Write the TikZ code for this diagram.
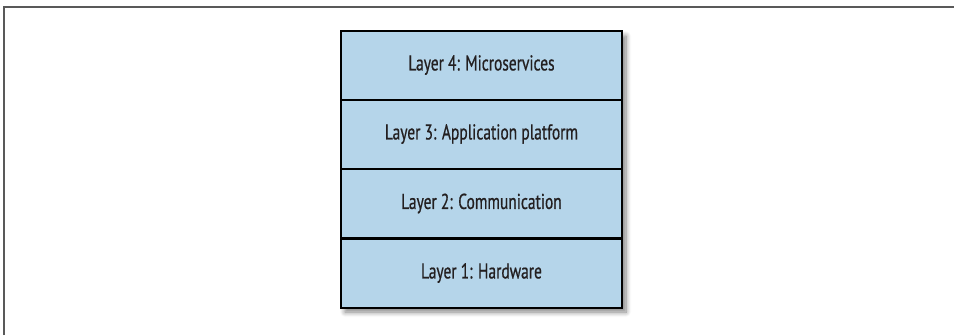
\documentclass[tikz,border=0pt]{standalone}
\usepackage{fontspec}
\setmainfont{PT Sans}
\newfontfamily\layerfont[FakeStretch=0.72,FakeBold=0.6]{PT Sans}
\usetikzlibrary{shadows.blur}
\definecolor{layerblue}{HTML}{B5D5EA}
\definecolor{txt}{HTML}{231F20}
\tikzset{
  layerbox/.style={draw=black, line width=2pt, fill=layerblue, minimum width=281pt, minimum height=69pt, inner sep=0pt, font=\layerfont\fontsize{21.5}{24}\selectfont, text=txt},
  frameline/.style={draw=gray!70!black, line width=1.2pt}
}
\begin{document}
\begin{tikzpicture}[x=1pt,y=-1pt]
\useasboundingbox (0,0) rectangle (954,335);
\coordinate (fa) at (4,335);
\coordinate (fb) at (4,7);
\coordinate (fc) at (954,7);
\draw[frameline] (fa) -- (fb) -- (fc);
\fill[black!50, blur shadow={shadow xshift=4pt, shadow yshift=-5pt, shadow blur steps=8, shadow blur radius=5pt, shadow opacity=50}] (341,31) rectangle (622,307);
\node[layerbox] (l4) at (481.5,65) {Layer 4: Microservices};
\node[layerbox] (l3) at (481.5,134) {Layer 3: Application platform};
\node[layerbox] (l2) at (481.5,203.5) {Layer 2: Communication};
\node[layerbox] (l1) at (481.5,273) {Layer 1: Hardware};
\end{tikzpicture}
\end{document}
